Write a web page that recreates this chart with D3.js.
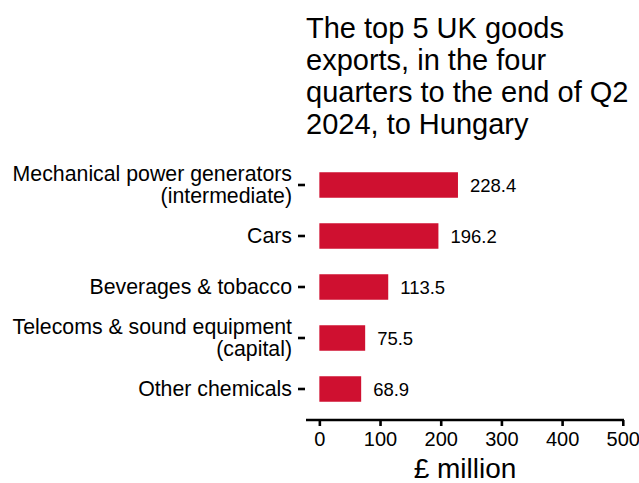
<!DOCTYPE html>
<html lang="en">
<head>
    <meta charset="UTF-8">
    <title>Top 5 UK goods exports to Hungary</title>
    <script src="https://d3js.org/d3.v7.min.js"></script>
    <style>
        body{
            margin: 0;
            background-color: white;
        }
        svg text{
            font-family: "Liberation Sans", Arial, sans-serif;
            fill: black;
        }
    </style>
</head>
<body>

<svg id="canvas" width="639" height="483"></svg>

<script>
    // data
    let categories = [
        "Mechanical power generators\n(intermediate)",
        "Cars",
        "Beverages & tobacco",
        "Telecoms & sound equipment\n(capital)",
        "Other chemicals"
    ];
    let values = [228.4, 196.2, 113.5, 75.5, 68.9];
    let xTicks = [0, 100, 200, 300, 400, 500];
    let titleLines = [
        "The top 5 UK goods",
        "exports, in the four",
        "quarters to the end of Q2",
        "2024, to Hungary"
    ];

    let svg = d3.select('svg');

    let x = d3.scaleLinear()
        .domain([-22, 502])
        .range([306, 624]);

    let y = d3.scaleBand()
        .domain(categories)
        .range([159.5, 414.5])
        .paddingInner(0.5)
        .paddingOuter(0.25);

    // title
    svg.append('text')
        .attr("x", 306)
        .attr("y", 38)
        .style("font-size", "29px")
        .selectAll('tspan')
        .data(titleLines)
        .join('tspan')
        .attr("x", 306)
        .attr("dy", function (d, i){return i === 0 ? 0 : 32})
        .text(function (d){return d});

    // bars
    svg.append('g')
        .selectAll('rect')
        .data(values)
        .join('rect')
        .attr("x", x(0))
        .attr("y", function (d, i){return y(categories[i])})
        .attr("width", function (d){return x(d) - x(0)})
        .attr("height", y.bandwidth())
        .attr("fill", "#cf1030");

    // value labels
    svg.append('g')
        .selectAll('text')
        .data(values)
        .join('text')
        .attr("x", function (d){return x(d) + 12})
        .attr("y", function (d, i){return y(categories[i]) + y.bandwidth() / 2})
        .attr("dy", "0.36em")
        .style("font-size", "18.5px")
        .text(function (d){return d3.format(".1f")(d)});

    // y axis: ticks and labels only
    let yAxis = svg.append('g')
        .attr("transform", "translate(305,0)")
        .call(d3.axisLeft(y).tickSize(7).tickPadding(6).tickFormat(""));
    yAxis.select('.domain').remove();
    yAxis.selectAll('.tick line')
        .attr("stroke", "black")
        .attr("stroke-width", 2.6);
    yAxis.selectAll('.tick').each(function (d){
        let lines = d.split("\n");
        let t = d3.select(this).append('text')
            .attr("x", -13)
            .attr("text-anchor", "end")
            .style("font-size", "21.3px");
        lines.forEach(function (line, i){
            t.append('tspan')
                .attr("x", -13)
                .attr("y", (i - (lines.length - 1) / 2) * 22 + 7)
                .text(line);
        });
    });

    // x axis
    let xAxis = svg.append('g')
        .attr("transform", "translate(0,420)")
        .call(d3.axisBottom(x).tickValues(xTicks).tickSize(6).tickSizeOuter(0).tickPadding(6));
    xAxis.select('.domain')
        .attr("stroke", "black")
        .attr("stroke-width", 2.6)
        .attr("d", "M306,0H624");
    xAxis.selectAll('.tick line')
        .attr("stroke", "black")
        .attr("stroke-width", 2.6);
    xAxis.selectAll('.tick text')
        .style("font-size", "20px")
        .style("font-family", "Liberation Sans, Arial, sans-serif")
        .attr("fill", "black");

    svg.append('text')
        .attr("x", 465)
        .attr("y", 478)
        .attr("text-anchor", "middle")
        .style("font-size", "28px")
        .text("£ million");
</script>

</body>
</html>
